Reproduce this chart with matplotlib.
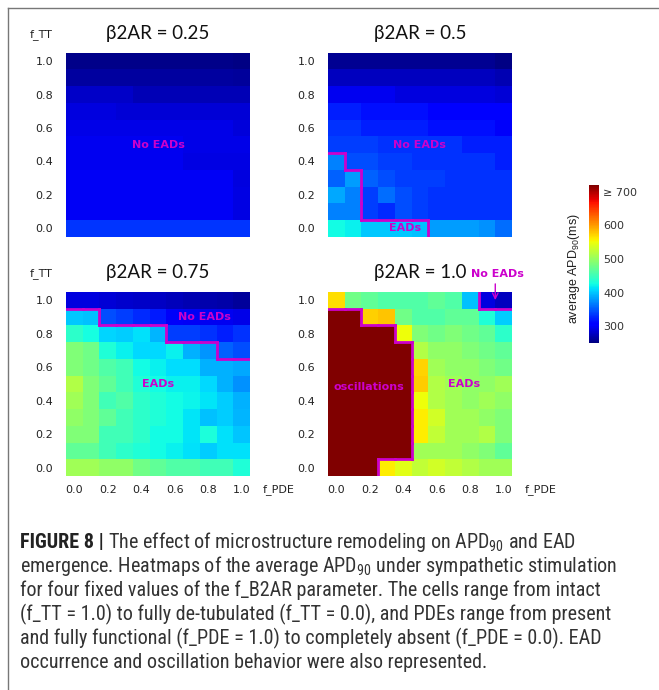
import matplotlib
matplotlib.use('Agg')
import matplotlib.pyplot as plt
import numpy as np
from matplotlib import font_manager
from matplotlib.lines import Line2D
from matplotlib.font_manager import FontProperties
import matplotlib.cm as cm
import matplotlib.colors as mcolors

# ---------------- data ----------------
f_values = [0.0, 0.1, 0.2, 0.3, 0.4, 0.5, 0.6, 0.7, 0.8, 0.9, 1.0]
tick_values = [0.0, 0.2, 0.4, 0.6, 0.8, 1.0]
tick_labels = ["0.0", "0.2", "0.4", "0.6", "0.8", "1.0"]
panel_titles = ["β2AR = 0.25", "β2AR = 0.5", "β2AR = 0.75", "β2AR = 1.0"]
cbar_ticks = [300, 400, 500, 600, 700]
cbar_ticklabels = ["300", "400", "500", "600", "≥ 700"]
apd_min, apd_max = 250, 720

# average APD90 (ms); rows from f_TT = 1.0 (top) down to f_TT = 0.0, columns f_PDE = 0.0 ... 1.0
apd_b2ar_025 = [
    [254, 254, 254, 254, 254, 254, 254, 254, 254, 254, 253],
    [263, 263, 263, 263, 263, 263, 263, 263, 263, 263, 262],
    [280, 280, 280, 280, 273, 273, 273, 273, 273, 273, 273],
    [289, 289, 289, 286, 286, 286, 286, 286, 286, 286, 286],
    [293, 293, 293, 293, 293, 293, 293, 293, 293, 293, 287],
    [297, 297, 297, 297, 297, 297, 297, 293, 293, 293, 293],
    [297, 297, 297, 297, 297, 297, 297, 291, 291, 291, 291],
    [298, 298, 298, 298, 298, 298, 298, 298, 298, 298, 290],
    [298, 298, 298, 298, 298, 298, 298, 298, 298, 298, 292],
    [298, 298, 298, 298, 298, 298, 298, 298, 298, 298, 291],
    [333, 333, 333, 333, 333, 333, 333, 333, 333, 333, 333],
]
apd_b2ar_05 = [
    [258, 258, 258, 258, 258, 258, 258, 258, 258, 258, 253],
    [276, 276, 276, 276, 276, 276, 276, 276, 276, 276, 272],
    [297, 297, 297, 297, 289, 289, 289, 289, 289, 289, 285],
    [323, 323, 316, 316, 316, 316, 305, 305, 305, 305, 305],
    [331, 331, 323, 323, 323, 323, 316, 316, 316, 316, 300],
    [338, 338, 338, 331, 331, 331, 331, 331, 323, 323, 323],
    [368, 345, 345, 338, 338, 331, 331, 331, 331, 331, 323],
    [353, 382, 353, 345, 338, 338, 338, 331, 331, 331, 331],
    [386, 368, 338, 360, 345, 338, 331, 331, 331, 331, 331],
    [368, 368, 338, 328, 345, 338, 331, 331, 331, 331, 331],
    [426, 419, 402, 402, 402, 397, 382, 382, 382, 375, 360],
]
apd_b2ar_075 = [
    [290, 290, 285, 283, 280, 278, 275, 272, 270, 268, 262],
    [401, 397, 345, 338, 328, 320, 300, 298, 297, 296, 294],
    [440, 428, 407, 404, 412, 393, 338, 338, 331, 323, 331],
    [487, 478, 433, 419, 408, 408, 419, 390, 378, 353, 345],
    [487, 478, 460, 451, 426, 420, 410, 410, 390, 390, 386],
    [515, 487, 469, 451, 433, 426, 419, 419, 408, 390, 375],
    [506, 487, 451, 460, 440, 433, 426, 422, 414, 404, 390],
    [497, 487, 469, 451, 440, 433, 426, 414, 397, 404, 393],
    [487, 487, 451, 451, 440, 426, 426, 414, 430, 412, 400],
    [469, 469, 451, 440, 433, 426, 419, 412, 404, 412, 412],
    [506, 506, 497, 497, 478, 469, 460, 460, 451, 451, 433],
]
apd_b2ar_10 = [
    [566, 478, 469, 460, 460, 460, 469, 460, 397, 289, 276],
    [720, 720, 574, 579, 478, 460, 460, 469, 469, 433, 404],
    [720, 720, 720, 720, 551, 487, 478, 487, 478, 469, 440],
    [720, 720, 720, 720, 720, 515, 497, 497, 487, 478, 469],
    [720, 720, 720, 720, 720, 572, 506, 497, 497, 487, 478],
    [720, 720, 720, 720, 720, 575, 515, 506, 497, 497, 506],
    [720, 720, 720, 720, 720, 551, 515, 506, 497, 506, 497],
    [720, 720, 720, 720, 720, 560, 533, 506, 506, 497, 487],
    [720, 720, 720, 720, 720, 560, 524, 506, 506, 515, 487],
    [720, 720, 720, 720, 720, 506, 506, 506, 497, 487, 469],
    [720, 720, 720, 560, 542, 524, 533, 524, 515, 506, 506],
]

# behaviour regions: 0 = no EADs, 1 = EADs, 2 = oscillations (same row order)
region_b2ar_025 = ["00000000000"] * 11
region_b2ar_05 = [
    "00000000000", "00000000000", "00000000000", "00000000000",
    "00000000000", "00000000000", "10000000000", "11000000000",
    "11000000000", "11000000000", "11111100000",
]
region_b2ar_075 = [
    "00000000000", "11000000000", "11111100000", "11111111100",
    "11111111111", "11111111111", "11111111111", "11111111111",
    "11111111111", "11111111111", "11111111111",
]
region_b2ar_10 = [
    "11111111100", "22111111111", "22221111111", "22222111111",
    "22222111111", "22222111111", "22222111111", "22222111111",
    "22222111111", "22222111111", "22211111111",
]

apd_panels = [apd_b2ar_025, apd_b2ar_05, apd_b2ar_075, apd_b2ar_10]
region_panels = [region_b2ar_025, region_b2ar_05, region_b2ar_075, region_b2ar_10]

# panel annotations: (text, x, y) in data coordinates
annotations = [
    [("No EADs", 0.5, 0.5)],
    [("No EADs", 0.495, 0.5), ("EADs", 0.41, 0.0)],
    [("No EADs", 0.78, 0.9), ("EADs", 0.5, 0.5)],
    [("oscillations", 0.195, 0.48), ("EADs", 0.765, 0.5)],
]

caption_lines = [
    "The effect of microstructure remodeling on APD$_\\mathregular{90}$ and EAD",
    "emergence. Heatmaps of the average APD$_\\mathregular{90}$ under sympathetic stimulation",
    "for four fixed values of the f_B2AR parameter. The cells range from intact",
    "(f_TT = 1.0) to fully de-tubulated (f_TT = 0.0), and PDEs range from present",
    "and fully functional (f_PDE = 1.0) to completely absent (f_PDE = 0.0). EAD",
    "occurrence and oscillation behavior were also represented.",
]

# ---------------- styling ----------------
W, H = 659, 690
MAG = '#cc00cc'
available = {f.name for f in font_manager.fontManager.ttflist}
title_font = 'Lato' if 'Lato' in available else 'DejaVu Sans'


def _weight(fe):
    w = fe.weight
    if isinstance(w, str):
        return {'normal': 400, 'regular': 400, 'book': 400, 'bold': 700}.get(w.lower(), 500)
    return int(w)


def _is_narrow(fe):
    return ('Narrow' in fe.name or 'Condensed' in fe.name or
            str(fe.stretch) in ('condensed', 'semi-condensed'))


# caption font: a regular-weight narrow sans (with a bold sibling) if installed
cap_regular = FontProperties(family='Liberation Sans')
cap_bold = FontProperties(family='Liberation Sans', weight='bold')
good_fams = ('Liberation', 'Arimo', 'Roboto', 'Open Sans', 'Noto Sans')
narrow = [fe for fe in font_manager.fontManager.ttflist
          if _is_narrow(fe) and fe.style == 'normal' and any(k in fe.name for k in good_fams)]
regs = [fe for fe in narrow if _weight(fe) == 400]
if regs:
    reg = regs[0]
    bolds = [fe for fe in narrow if fe.name == reg.name and _weight(fe) >= 600]
    cap_regular = FontProperties(fname=reg.fname)
    if bolds:
        cap_bold = FontProperties(fname=bolds[0].fname)

fig = plt.figure(figsize=(W / 100, H / 100), dpi=100)
cmap = plt.get_cmap('jet')
norm = mcolors.Normalize(vmin=apd_min, vmax=apd_max)


def px_axes(x0, y0, x1, y1):
    return fig.add_axes([x0 / W, 1 - y1 / H, (x1 - x0) / W, (y1 - y0) / H])


panel_boxes = [(66, 52.7, 250, 236.7), (328, 52.7, 512, 236.7),
               (66, 292, 250, 476), (328, 292, 512, 476)]

f = np.array(f_values)
step = f[1] - f[0]
edges = np.concatenate([f - step / 2, [f[-1] + step / 2]])

for i, (box, apd, region) in enumerate(zip(panel_boxes, apd_panels, region_panels)):
    ax = px_axes(*box)
    data = np.flipud(np.array(apd, dtype=float))
    lab = np.flipud(np.array([[int(c) for c in row] for row in region]))
    ax.pcolormesh(edges, edges, data, cmap=cmap, norm=norm, shading='flat')
    ax.set_xlim(edges[0], edges[-1])
    ax.set_ylim(edges[0], edges[-1])
    for s in ax.spines.values():
        s.set_visible(False)
    ax.set_yticks(tick_values)
    ax.set_yticklabels(tick_labels)
    ax.set_xticks(tick_values)
    if i >= 2:
        ax.set_xticklabels(tick_labels)
        ax.text(1 + 13 / 184, -0.076, "f_PDE", transform=ax.transAxes,
                ha='left', va='center', fontsize=8, family='DejaVu Sans', color='#222222')
    else:
        ax.set_xticklabels([])
    ax.tick_params(axis='both', length=0, labelsize=8, colors='#222222')
    ax.tick_params(axis='y', pad=9.2)
    ax.tick_params(axis='x', pad=6.5)
    if i % 2 == 0:
        ax.text(-13 / 184, 1.085, "f_TT", transform=ax.transAxes, ha='right',
                va='baseline', fontsize=8, family='DejaVu Sans', color='#222222')
    ax.text(0.5, 1 + 14 / 184, panel_titles[i], transform=ax.transAxes, ha='center',
            va='baseline', fontsize=13.5, family=title_font, color='#111111')

    # region boundaries
    n = lab.shape[0]
    for r in range(n):
        for c in range(n):
            if c + 1 < n and lab[r, c] != lab[r, c + 1]:
                ax.plot([edges[c + 1]] * 2, [edges[r], edges[r + 1]], color=MAG,
                        lw=2.0, solid_capstyle='projecting')
            if r + 1 < n and lab[r, c] != lab[r + 1, c]:
                ax.plot([edges[c], edges[c + 1]], [edges[r + 1]] * 2, color=MAG,
                        lw=2.0, solid_capstyle='projecting')

    for (txt, x, y) in annotations[i]:
        ax.text(x, y, txt, ha='center', va='center', color=MAG, fontsize=8,
                fontweight='bold', family='DejaVu Sans')

    if i == 3:
        ax.text(0.965, 1.155, "No EADs", ha='center', va='center', color=MAG,
                fontsize=8, fontweight='bold', family='DejaVu Sans', clip_on=False)
        ax.annotate("", xy=(0.95, 0.985), xytext=(0.95, 1.115),
                    arrowprops=dict(arrowstyle='->', color=MAG, lw=1.0), annotation_clip=False)

# colorbar
cax = px_axes(589, 185, 599, 343)
sm = cm.ScalarMappable(norm=norm, cmap=cmap)
cb = fig.colorbar(sm, cax=cax)
cb.outline.set_visible(False)
cb.set_ticks(cbar_ticks)
cb.set_ticklabels(cbar_ticklabels)
cax.tick_params(length=0, labelsize=8, pad=3, colors='#333333')
for t in cax.get_yticklabels():
    t.set_family('DejaVu Sans')
cax.yaxis.set_label_position('left')
cb.set_label("average APD$_\\mathregular{90}$(ms)", family='Liberation Sans', fontsize=9,
             labelpad=5, color='#222222')
cax.yaxis.label.set_y(0.47)

# frame lines (top and left)
fig.add_artist(Line2D([8 / W, 8 / W], [0, 1 - 8 / H], transform=fig.transFigure,
                      color='#777777', lw=1.0))
fig.add_artist(Line2D([8 / W, 1], [1 - 8 / H, 1 - 8 / H], transform=fig.transFigure,
                      color='#777777', lw=1.0))

# caption
renderer = fig.canvas.get_renderer()
cap_size = 14
probe = fig.text(0, 0, caption_lines[1], fontproperties=cap_regular, fontsize=cap_size)
wpx = probe.get_window_extent(renderer).width
probe.remove()
cap_size = min(cap_size * 612 / wpx, 14.5)

baselines = [548, 572, 596, 620, 644, 668]
bold = fig.text(20 / W, 1 - baselines[0] / H, "FIGURE 8 |", fontproperties=cap_bold,
                fontsize=cap_size, color='#222222', va='baseline')
bw = bold.get_window_extent(renderer).width
sp = cap_size * 0.28
fig.text((20 + bw + sp) / W, 1 - baselines[0] / H, caption_lines[0],
         fontproperties=cap_regular, fontsize=cap_size, color='#333333', va='baseline')
for k in range(1, 6):
    fig.text(20 / W, 1 - baselines[k] / H, caption_lines[k], fontproperties=cap_regular,
             fontsize=cap_size, color='#333333', va='baseline')

fig.savefig('out.png', dpi=100)
